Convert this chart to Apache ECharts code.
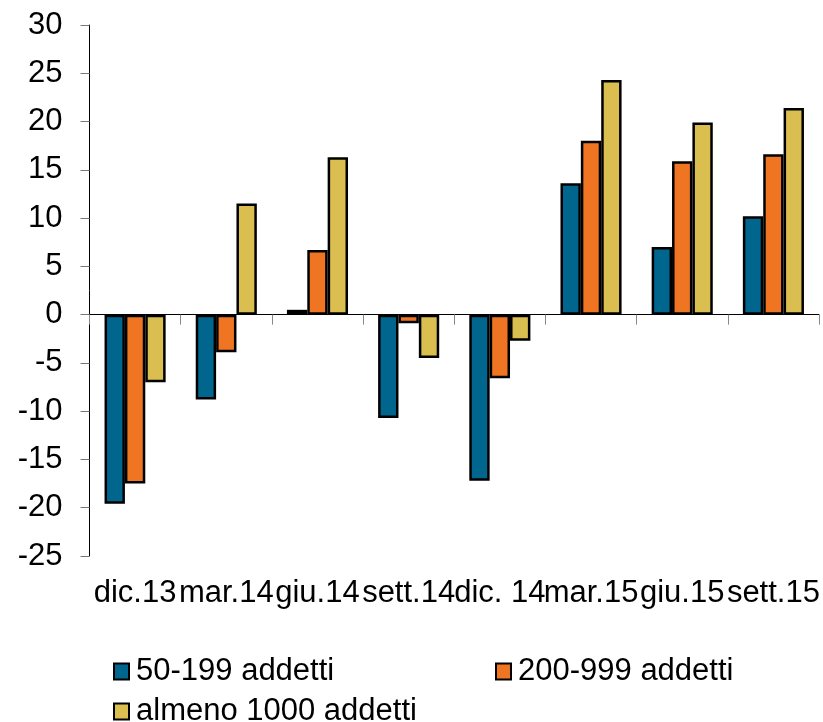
<!DOCTYPE html>
<html>
<head>
<meta charset="utf-8">
<script src="https://cdn.jsdelivr.net/npm/echarts@6/dist/echarts.min.js"></script>
<style>
  html, body { margin: 0; padding: 0; background: #fff; }
  #chart { width: 823px; height: 722px; }
</style>
</head>
<body>
<div id="chart"></div>
<script>
// Quarterly periods
const categories = ['dic.13', 'mar.14', 'giu.14', 'sett.14', 'dic. 14', 'mar.15', 'giu.15', 'sett.15'];

// Values by firm size class
const small  = [-19.6, -8.8, 0.5, -10.7, -17.2, 13.6, 7.0, 10.2];   // 50-199 addetti
const medium = [-17.5, -3.9, 6.7, -0.9, -6.6, 18.0, 15.9, 16.6];    // 200-999 addetti
const large  = [-7.0, 11.5, 16.3, -4.5, -2.7, 24.3, 19.9, 21.4];    // almeno 1000 addetti

const seriesNames = ['50-199 addetti', '200-999 addetti', 'almeno 1000 addetti'];
const seriesColors = ['#00668E', '#F07522', '#DBBE50'];

// Y-axis range
const yMin = -25, yMax = 30, yStep = 5;

const FONT = "'Liberation Sans', Arial, Helvetica, sans-serif";
const FS = 31;

const chart = echarts.init(document.getElementById('chart'), null, { renderer: 'canvas' });

function bar(name, data, color) {
  return {
    name: name,
    type: 'bar',
    xAxisIndex: 0,
    data: data,
    barGap: '0%',
    barCategoryGap: '33%',
    itemStyle: { color: color, borderColor: '#000', borderWidth: 2.5 }
  };
}

function legendAt(name, left, top) {
  return {
    data: [name],
    left: left,
    top: top,
    icon: 'rect',
    itemWidth: 15,
    itemHeight: 16,
    selectedMode: false,
    textStyle: { fontFamily: FONT, fontSize: FS, color: '#000', padding: [0, 0, 0, 2] }
  };
}

chart.setOption({
  animation: false,
  backgroundColor: '#fff',
  textStyle: { fontFamily: FONT },
  grid: { left: 89.5, right: 4, top: 25, bottom: 166 },
  legend: [
    legendAt(seriesNames[0], 108, 651),
    legendAt(seriesNames[1], 490, 651),
    legendAt(seriesNames[2], 108, 691)
  ],
  xAxis: [
    {
      type: 'category',
      data: categories,
      position: 'bottom',
      axisLine: { onZero: true, lineStyle: { color: '#000', width: 1 } },
      axisTick: { show: true, length: 10, alignWithLabel: false, lineStyle: { color: '#888' } },
      axisLabel: { show: false }
    },
    {
      type: 'category',
      data: categories,
      position: 'bottom',
      axisLine: { show: false, onZero: false },
      axisTick: { show: false },
      axisLabel: {
        show: true, interval: 0, hideOverlap: false,
        fontFamily: FONT, fontSize: FS, color: '#000', margin: 22
      }
    }
  ],
  yAxis: {
    type: 'value',
    min: yMin,
    max: yMax,
    interval: yStep,
    splitLine: { show: false },
    axisLine: { show: true, lineStyle: { color: '#000', width: 1 } },
    axisTick: { show: true, length: 9, lineStyle: { color: '#777' } },
    axisLabel: { fontFamily: FONT, fontSize: FS, color: '#000', margin: 27 }
  },
  series: [
    bar(seriesNames[0], small, seriesColors[0]),
    bar(seriesNames[1], medium, seriesColors[1]),
    bar(seriesNames[2], large, seriesColors[2])
  ]
});
</script>
</body>
</html>
